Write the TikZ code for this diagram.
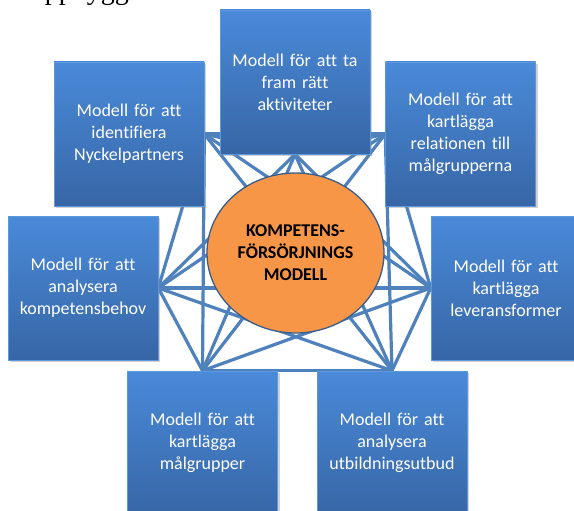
\documentclass[tikz,border=0pt]{standalone}
\usepackage{fontspec}
\setmainfont{Carlito}[Ligatures=NoCommon]
\newfontfamily\captionserif{Liberation Serif}
\usetikzlibrary{shapes.geometric,shadows,backgrounds}

\definecolor{boxtop}{RGB}{74,138,217}
\definecolor{boxbottom}{RGB}{55,102,166}
\definecolor{boxedge}{RGB}{92,152,222}
\definecolor{linkblue}{RGB}{79,129,189}
\definecolor{hubfill}{RGB}{247,150,70}
\definecolor{hubedge}{RGB}{56,93,138}

\tikzset{
  modelbox/.style={rectangle, minimum width=150pt, minimum height=144pt,
    inner sep=0pt, text width=142pt, align=center,
    top color=boxtop, bottom color=boxbottom, draw=boxedge, line width=0.6pt,
    text=white, font=\fontsize{18}{22}\selectfont,
    drop shadow={shadow xshift=2pt, shadow yshift=-2pt, opacity=0.35}},
  link/.style={draw=linkblue, line width=3.2pt},
  core/.style={ellipse, minimum width=177pt, minimum height=160pt,
    fill=hubfill, draw=hubedge, line width=1.3pt, inner sep=0pt,
    align=center, font=\bfseries\fontsize{18}{22}\selectfont}
}

\begin{document}
\begin{tikzpicture}[x=1pt, y=-1pt]
  \clip (0,0) rectangle (574,511);

  % heading line above the figure
  \node[anchor=base west, inner sep=0pt,
        font=\captionserif\fontsize{28}{28}\selectfont] (heading) at (2,0)
        {är uppbyggd av.};

  % the seven sub-models
  \node[modelbox] (t)  at (295,82)    {Modell för att ta\\fram rätt\\aktiviteter};
  \node[modelbox] (tl) at (129,134)   {Modell för att\\identifiera\\Nyckelpartners};
  \node[modelbox] (tr) at (460.5,134) {Modell för att\\kartlägga\\relationen till\\målgrupperna};
  \node[modelbox] (l)  at (83,288)    {Modell för att\\analysera\\kompetensbehov};
  \node[modelbox] (r)  at (506,288)   {Modell för att\\kartlägga\\leveransformer};
  \node[modelbox] (bl) at (202.5,443) {Modell för att\\kartlägga\\målgrupper};
  \node[modelbox] (br) at (392,443)   {Modell för att\\analysera\\utbildningsutbud};

  % the central model
  \node[core] (core) at (295.5,253) {KOMPETENS-\\FÖRSÖRJNINGS\\MODELL};

  % connection points on the boxes
  \coordinate (h1) at (tl.east);
  \coordinate (h2) at (t.south);
  \coordinate (h3) at (tr.west);
  \coordinate (h4) at (r.west);
  \coordinate (h5) at (br.north);
  \coordinate (h6) at (bl.north);
  \coordinate (h7) at (l.east);

  % every box linked with every other, behind boxes and centre
  \begin{pgfonlayer}{background}
    \fill[white] (0,0) rectangle (574,511);
    \foreach \i in {1,...,6}{
      \pgfmathtruncatemacro\k{\i+1}
      \foreach \j in {\k,...,7}{
        \draw[link] (h\i) -- (h\j);
      }
    }
  \end{pgfonlayer}
\end{tikzpicture}
\end{document}
